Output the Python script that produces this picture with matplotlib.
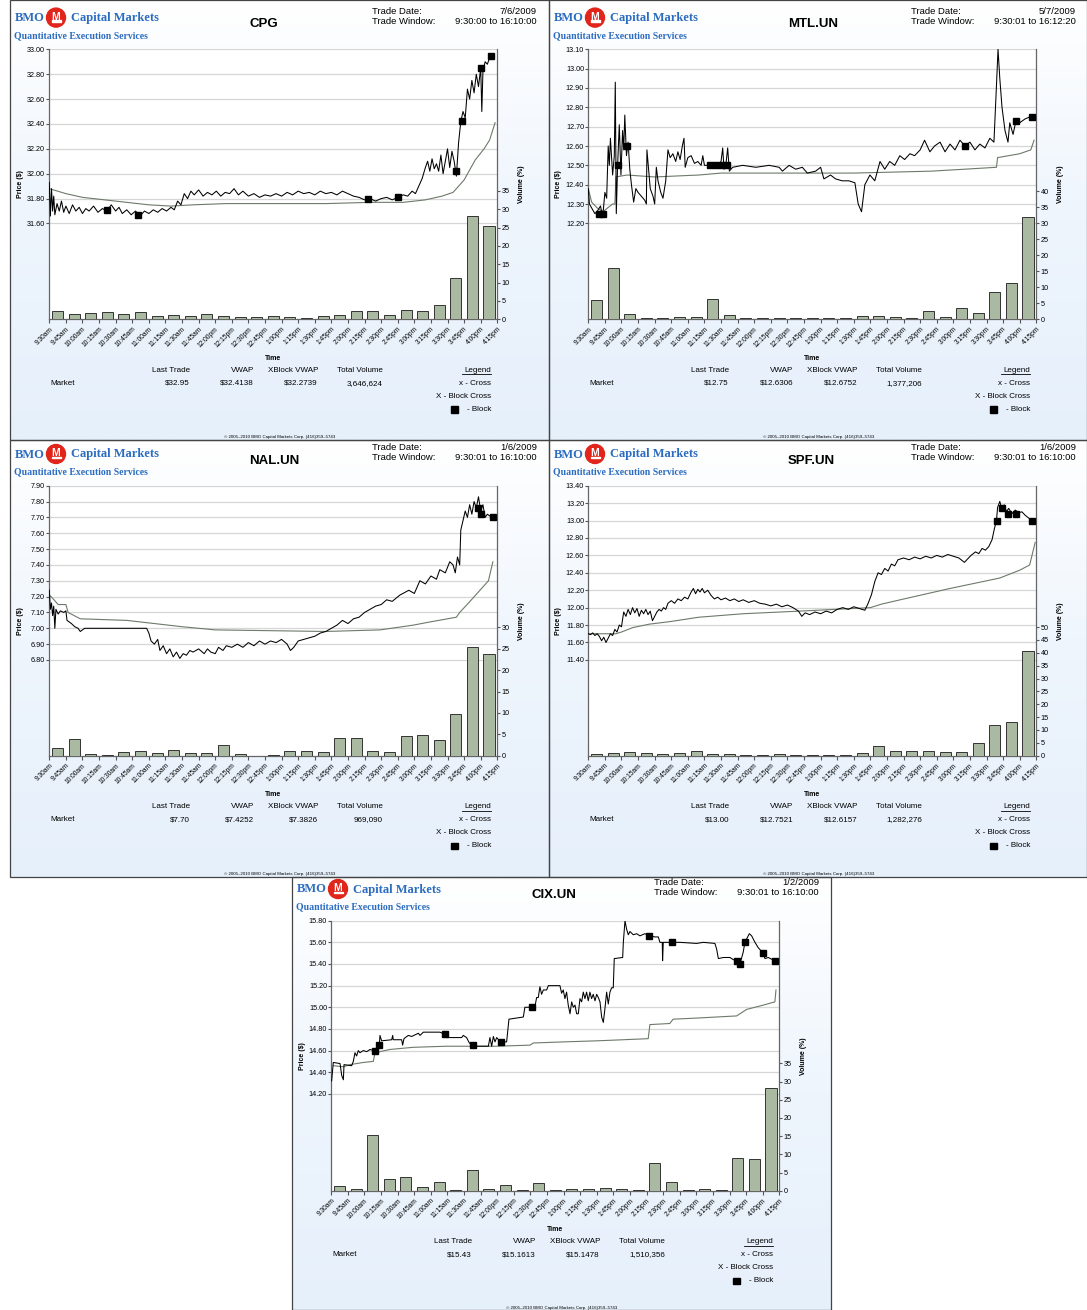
import numpy as np
import matplotlib.pyplot as plt
from matplotlib.patches import Circle, Rectangle
from matplotlib.colors import LinearSegmentedColormap

plt.rcParams['font.family'] = ['Liberation Sans', 'DejaVu Sans']

W, H = 1087, 1310

# --- shared axis labels ---
time_labels = ['9:30am', '9:45am', '10:00am', '10:15am', '10:30am', '10:45am', '11:00am',
               '11:15am', '11:30am', '11:45am', '12:00pm', '12:15pm', '12:30pm', '12:45pm',
               '1:00pm', '1:15pm', '1:30pm', '1:45pm', '2:00pm', '2:15pm', '2:30pm', '2:45pm',
               '3:00pm', '3:15pm', '3:30pm', '3:45pm', '4:00pm', '4:15pm']
stat_headers = ['Last Trade', 'VWAP', 'XBlock VWAP', 'Total Volume']

# --- CPG (minutes after 9:30) ---
cpg_t = [0, 1, 2, 3, 4, 5, 7, 9, 11, 13, 15, 18, 21, 24, 27, 30, 33, 36, 40, 44, 48, 52, 56, 60,
         63, 66, 70, 74, 78, 82, 86, 90, 94, 98, 102, 106, 110, 113, 116, 119, 122, 125, 128, 131,
         135, 139, 143, 147, 151, 155, 159, 163, 167, 171, 175, 180, 185, 190, 195, 200, 205, 210,
         215, 220, 225, 230, 235, 240, 245, 250, 255, 260, 265, 270, 275, 280, 285, 290, 295, 300,
         305, 310, 315, 320, 324, 328, 331, 334, 337, 340, 342, 344, 346, 348, 350, 352, 354, 356,
         358, 360, 362, 364, 366, 368, 370, 372, 374, 376, 378, 380, 382, 384, 386, 388, 390, 391,
         392, 394, 396, 398, 400]
cpg_p = [31.93, 31.66, 31.88, 31.70, 31.82, 31.67, 31.76, 31.70, 31.78, 31.69, 31.74, 31.68,
         31.75, 31.70, 31.73, 31.68, 31.72, 31.70, 31.74, 31.69, 31.72, 31.70, 31.75, 31.70,
         31.73, 31.68, 31.71, 31.67, 31.70, 31.66, 31.70, 31.68, 31.71, 31.69, 31.72, 31.70,
         31.73, 31.71, 31.78, 31.75, 31.84, 31.80, 31.86, 31.83, 31.87, 31.82, 31.85, 31.83,
         31.86, 31.82, 31.85, 31.84, 31.88, 31.83, 31.86, 31.82, 31.84, 31.81, 31.83, 31.82,
         31.84, 31.82, 31.85, 31.83, 31.86, 31.84, 31.85, 31.83, 31.86, 31.84, 31.85, 31.83,
         31.86, 31.84, 31.82, 31.81, 31.79, 31.80, 31.78, 31.80, 31.81, 31.79, 31.81, 31.83,
         31.82, 31.86, 31.84, 31.90, 31.96, 32.05, 32.10, 32.02, 32.12, 32.04, 32.08, 32.02,
         32.15, 32.00, 32.10, 32.20, 32.05, 32.18, 32.10, 31.98, 32.25, 32.42, 32.50, 32.45,
         32.68, 32.60, 32.75, 32.65, 32.80, 32.70, 32.85, 32.50, 32.82, 32.90, 32.88, 32.93,
         32.95]
cpg_vwap_t = [0, 15, 30, 50, 70, 90, 110, 130, 160, 200, 250, 290, 320, 340, 355, 365, 375, 385,
              393, 398, 403]
cpg_vwap_p = [31.88, 31.84, 31.81, 31.79, 31.77, 31.75, 31.74, 31.75, 31.76, 31.76, 31.76, 31.77,
              31.77, 31.79, 31.82, 31.85, 31.95, 32.11, 32.20, 32.27, 32.41]
cpg_block_t = [52, 80, 288, 315, 368, 373, 390, 399]
cpg_block_p = [31.71, 31.67, 31.80, 31.81, 32.02, 32.42, 32.85, 32.95]
cpg_vol = [2.3, 1.5, 1.7, 1.9, 1.4, 2.0, 0.8, 1.1, 0.9, 1.5, 0.9, 0.6, 0.6, 0.9, 0.6, 0.3, 0.9,
           1.3, 2.2, 2.3, 1.2, 2.5, 2.3, 3.8, 11.3, 28.2, 25.4]
cpg_price_ticks = [31.6, 31.8, 32.0, 32.2, 32.4, 32.6, 32.8, 33.0]
cpg_vol_ticks = [0, 5, 10, 15, 20, 25, 30, 35]
cpg_stats = ['$32.95', '$32.4138', '$32.2739', '3,646,624']

# --- MTL.UN ---
mtl_t = [0, 1, 3, 6, 9, 11, 12.5, 13.6, 15, 16.6, 18, 19, 20, 22, 23.5, 24.4, 25.3, 26.5, 28,
         29.5, 31, 32, 33, 34.5, 36, 37.5, 39, 41, 43, 45, 48, 51, 52.5, 53, 54.5, 56, 58.5, 60,
         61.5, 63, 65.5, 67.5, 70, 72, 74, 76.5, 79, 81, 83, 85, 86.5, 87.6, 90, 93, 96, 99, 102,
         103.5, 105, 109.5, 115.5, 120, 121.5, 122.7, 124.5, 126, 127.5, 130.5, 139.5, 151.5,
         163.5, 172.5, 175.5, 181.5, 187.5, 193.5, 198, 205.5, 210, 213, 219, 223.5, 229.5, 235.5,
         241, 244, 247, 250, 254.6, 259, 263.7, 268, 272.5, 277, 281.6, 286, 290.7, 295, 300, 304,
         308.8, 313, 318, 322.5, 327, 331.5, 336, 340.5, 345, 349.5, 354, 358.6, 363, 366.7,
         368.5, 370.4, 372, 374, 376.7, 379.4, 381, 384, 386.6, 390, 394.8, 399, 402]
mtl_p = [12.38, 12.30, 12.28, 12.25, 12.27, 12.29, 12.25, 12.27, 12.36, 12.33, 12.60, 12.50,
         12.64, 12.45, 12.55, 12.93, 12.25, 12.50, 12.71, 12.45, 12.68, 12.58, 12.76, 12.55,
         12.62, 12.48, 12.40, 12.31, 12.38, 12.36, 12.34, 12.32, 12.30, 12.58, 12.48, 12.38,
         12.34, 12.30, 12.49, 12.42, 12.36, 12.33, 12.42, 12.58, 12.54, 12.56, 12.52, 12.57,
         12.53, 12.60, 12.64, 12.49, 12.54, 12.55, 12.51, 12.52, 12.50, 12.55, 12.50, 12.50,
         12.49, 12.52, 12.59, 12.48, 12.51, 12.59, 12.47, 12.49, 12.50, 12.49, 12.50, 12.49,
         12.47, 12.50, 12.48, 12.49, 12.46, 12.47, 12.49, 12.43, 12.45, 12.43, 12.42, 12.42,
         12.41, 12.30, 12.26, 12.40, 12.45, 12.42, 12.52, 12.48, 12.52, 12.50, 12.55, 12.53,
         12.56, 12.55, 12.58, 12.63, 12.57, 12.60, 12.62, 12.57, 12.61, 12.58, 12.63, 12.60,
         12.62, 12.58, 12.61, 12.59, 12.64, 12.62, 12.85, 13.10, 12.95, 12.80, 12.68, 12.62,
         12.72, 12.66, 12.73, 12.72, 12.74, 12.75, 12.75]
mtl_vwap_t = [0, 3, 8, 13, 22, 24, 25, 35, 60, 100, 120, 140, 240, 310, 340, 369, 370, 390, 400,
              403]
mtl_vwap_p = [12.38, 12.31, 12.28, 12.26, 12.30, 12.30, 12.44, 12.45, 12.44, 12.45, 12.46, 12.46,
              12.46, 12.47, 12.48, 12.49, 12.54, 12.56, 12.58, 12.63]
mtl_block_t = [9.7, 13.3, 26.6, 34.7, 110, 115.4, 120.9, 125.4, 340.5, 386.6, 401]
mtl_block_p = [12.25, 12.25, 12.50, 12.60, 12.50, 12.50, 12.50, 12.50, 12.60, 12.73, 12.75]
mtl_vol = [6.0, 16.0, 1.6, 0.3, 0.3, 0.8, 0.8, 6.3, 1.3, 0.5, 0.3, 0.3, 0.3, 0.3, 0.3, 0.3, 1.0,
           1.0, 0.6, 0.5, 2.7, 0.6, 3.4, 1.9, 8.4, 11.3, 31.9]
mtl_price_ticks = [12.2, 12.3, 12.4, 12.5, 12.6, 12.7, 12.8, 12.9, 13.0, 13.1]
mtl_vol_ticks = [0, 5, 10, 15, 20, 25, 30, 35, 40]
mtl_stats = ['$12.75', '$12.6306', '$12.6752', '1,377,206']

# --- NAL.UN ---
nal_t = [0, 1, 2, 3, 4, 5, 6, 8, 10, 13, 15, 16, 18, 20, 23, 26, 28, 32, 40, 60, 80, 88, 90, 92,
         95, 98, 100, 103, 106, 109, 112, 115, 118, 121, 124, 127, 130, 135, 140, 143, 146, 150,
         153, 157, 160, 165, 170, 175, 180, 185, 190, 195, 200, 205, 210, 215, 218, 221, 225, 230,
         235, 240, 245, 250, 255, 260, 265, 270, 275, 280, 285, 290, 295, 300, 305, 310, 317, 325,
         330, 335, 340, 345, 350, 353, 358, 362, 365, 367, 369, 371, 372, 374, 376, 378, 380, 382,
         384, 386, 388, 390, 392, 394, 396, 398, 400, 403]
nal_p = [7.24, 7.12, 7.16, 7.08, 7.14, 7.00, 7.12, 7.09, 7.11, 7.10, 7.11, 7.05, 7.04, 7.03, 7.01,
         7.00, 6.98, 7.00, 7.00, 7.00, 7.00, 7.00, 6.97, 6.92, 6.90, 6.93, 6.86, 6.89, 6.84, 6.87,
         6.82, 6.85, 6.81, 6.84, 6.83, 6.86, 6.85, 6.87, 6.84, 6.87, 6.85, 6.84, 6.88, 6.86, 6.89,
         6.88, 6.90, 6.88, 6.91, 6.89, 6.92, 6.90, 6.92, 6.91, 6.93, 6.90, 6.86, 6.88, 6.92, 6.93,
         6.94, 6.95, 6.97, 6.98, 7.00, 7.02, 7.05, 7.03, 7.06, 7.07, 7.10, 7.12, 7.14, 7.15, 7.18,
         7.17, 7.21, 7.24, 7.22, 7.30, 7.28, 7.33, 7.31, 7.37, 7.35, 7.42, 7.40, 7.35, 7.45, 7.40,
         7.62, 7.68, 7.74, 7.70, 7.78, 7.72, 7.80, 7.76, 7.83, 7.74, 7.78, 7.70, 7.72, 7.71, 7.70,
         7.70]
nal_vwap_t = [0, 3, 8, 15, 17, 28, 70, 120, 150, 250, 299, 329, 344, 368, 371, 379, 388, 397, 401]
nal_vwap_p = [7.21, 7.19, 7.15, 7.15, 7.10, 7.06, 7.05, 7.01, 6.99, 6.98, 6.99, 7.02, 7.04, 7.07,
              7.10, 7.16, 7.23, 7.30, 7.42]
nal_block_t = [387.5, 390.3, 401]
nal_block_p = [7.76, 7.72, 7.70]
nal_vol = [1.8, 3.9, 0.4, 0.2, 0.8, 1.1, 0.6, 1.3, 0.6, 0.7, 2.5, 0.3, 0.0, 0.1, 1.2, 1.2, 0.8,
           4.2, 4.2, 1.2, 0.9, 4.7, 4.8, 3.7, 9.7, 25.3, 23.8]
nal_price_ticks = [6.8, 6.9, 7.0, 7.1, 7.2, 7.3, 7.4, 7.5, 7.6, 7.7, 7.8, 7.9]
nal_vol_ticks = [0, 5, 10, 15, 20, 25, 30]
nal_stats = ['$7.70', '$7.4252', '$7.3826', '969,090']

# --- SPF.UN ---
spf_t = [0, 2, 4, 6, 8, 10, 12, 14, 16, 18, 20, 22, 24, 26, 28, 30, 32, 34, 36, 38, 40, 42, 44,
         46, 48, 50, 52, 54, 56, 58, 60, 62, 64, 66, 68, 70, 72, 75, 78, 81, 84, 87, 90, 93, 95,
         97, 99, 101, 103, 105, 108, 111, 114, 117, 120, 124, 128, 132, 136, 140, 145, 150, 155,
         160, 165, 170, 175, 180, 185, 190, 193, 196, 200, 205, 210, 215, 220, 225, 230, 235, 240,
         245, 250, 253, 256, 259, 262, 265, 268, 271, 274, 277, 280, 285, 290, 295, 300, 305, 310,
         315, 320, 325, 330, 335, 340, 343, 346, 350, 353, 356, 359, 362, 365, 367, 369, 370, 372,
         374, 376, 378, 380, 383, 386, 389, 392, 395, 398, 401]
spf_p = [11.70, 11.69, 11.71, 11.68, 11.70, 11.67, 11.62, 11.66, 11.60, 11.65, 11.70, 11.68,
         11.75, 11.72, 11.80, 11.78, 11.95, 11.90, 11.98, 11.92, 12.00, 11.94, 11.99, 11.90,
         11.97, 11.93, 11.98, 11.92, 11.96, 11.85, 11.90, 11.95, 11.98, 11.96, 12.00, 11.98,
         12.05, 12.08, 12.05, 12.10, 12.08, 12.12, 12.10, 12.18, 12.22, 12.16, 12.21, 12.18,
         12.22, 12.17, 12.20, 12.14, 12.10, 12.12, 12.09, 12.11, 12.08, 12.10, 12.07, 12.09,
         12.06, 12.08, 12.05, 12.04, 12.02, 12.04, 12.01, 12.03, 12.00, 11.96, 11.90, 11.94,
         11.92, 11.95, 11.93, 11.96, 11.94, 11.98, 12.00, 11.98, 12.01, 11.99, 11.97, 12.05,
         12.15, 12.30, 12.40, 12.38, 12.45, 12.42, 12.50, 12.48, 12.55, 12.57, 12.55, 12.58,
         12.56, 12.59, 12.57, 12.60, 12.58, 12.61, 12.59, 12.57, 12.52, 12.56, 12.60, 12.64,
         12.62, 12.68, 12.66, 12.70, 12.78, 12.90, 13.00, 13.15, 13.22, 13.12, 13.18, 13.10,
         13.14, 13.08, 13.12, 13.09, 13.10, 13.06, 13.03, 13.00]
spf_vwap_t = [0, 25, 30, 40, 55, 74, 100, 140, 191, 255, 265, 282, 327, 372, 390, 399, 404]
spf_vwap_p = [11.70, 11.70, 11.72, 11.77, 11.81, 11.84, 11.89, 11.93, 11.96, 12.00, 12.04, 12.09,
              12.22, 12.34, 12.43, 12.49, 12.75]
spf_block_t = [369.5, 374, 379.4, 386.6, 401]
spf_block_p = [13.00, 13.14, 13.08, 13.08, 13.00]
spf_vol = [0.8, 0.9, 1.5, 1.0, 0.8, 1.1, 2.0, 0.6, 0.5, 0.4, 0.4, 0.5, 0.4, 0.3, 0.4, 0.3, 1.0,
           3.9, 1.7, 2.0, 1.9, 1.3, 1.6, 4.8, 11.8, 13.1, 40.6]
spf_price_ticks = [11.4, 11.6, 11.8, 12.0, 12.2, 12.4, 12.6, 12.8, 13.0, 13.2, 13.4]
spf_vol_ticks = [0, 5, 10, 15, 20, 25, 30, 35, 40, 45, 50]
spf_stats = ['$13.00', '$12.7521', '$12.6157', '1,282,276']

# --- CIX.UN ---
cix_t = [0.3, 1.8, 7.9, 9.4, 10.9, 11.5, 18.4, 19.9, 21.4, 22.9, 24.4, 25.9, 28.9, 32, 35, 38,
         41, 43.4, 44, 45.5, 54.6, 55.5, 56, 63.6, 64.5, 65.7, 69.6, 72.6, 78.7, 80.2, 83.2, 98.2,
         102.8, 104.3, 117.8, 119.3, 122.3, 124.8, 127.8, 131.4, 142, 143.4, 145, 146.5, 148,
         149.5, 153, 158.5, 160.6, 173.6, 175, 184, 185.6, 187.1, 188.6, 190.1, 191.7, 194.7,
         196.2, 206.7, 208.2, 209.7, 211.2, 212.7, 214.2, 215.8, 217.3, 218.8, 220.3, 221.8,
         223.3, 224.8, 226.3, 227.8, 229.3, 230.8, 232.3, 233.8, 235.3, 236.8, 238.4, 239.9,
         241.4, 242.9, 244.4, 245.9, 247.4, 248.9, 250.4, 251.9, 253.4, 254.9, 255.8, 263.4, 264,
         265.5, 267, 268.5, 270, 273, 276, 279, 283.5, 287.5, 292.6, 295.6, 297.1, 299.2, 299.5,
         300.1, 308.3, 315.2, 330.3, 336.3, 346.8, 348.3, 349.9, 354.4, 360.4, 363.4, 367, 369.4,
         372.4, 373.9, 375.4, 377.9, 380, 381.5, 383, 386, 390.5, 392, 395, 401]
cix_p = [14.32, 14.49, 14.48, 14.37, 14.33, 14.47, 14.46, 14.50, 14.58, 14.55, 14.60, 14.58,
         14.60, 14.59, 14.61, 14.60, 14.62, 14.65, 14.74, 14.69, 14.70, 14.74, 14.70, 14.70,
         14.65, 14.71, 14.74, 14.73, 14.76, 14.74, 14.77, 14.77, 14.75, 14.72, 14.72, 14.74,
         14.72, 14.67, 14.65, 14.64, 14.64, 14.72, 14.64, 14.73, 14.68, 14.72, 14.68, 14.68,
         14.89, 14.91, 15.00, 15.00, 15.09, 15.09, 15.19, 15.12, 15.16, 15.16, 15.20, 15.20,
         15.13, 15.16, 15.08, 15.14, 15.02, 14.94, 15.05, 15.00, 15.02, 14.94, 14.94, 15.08,
         15.05, 15.14, 15.08, 15.14, 15.06, 15.14, 15.08, 15.12, 15.06, 15.12, 15.09, 15.05,
         14.91, 14.86, 14.99, 15.14, 15.03, 15.14, 15.18, 15.18, 15.45, 15.46, 15.60, 15.80,
         15.72, 15.67, 15.70, 15.67, 15.68, 15.66, 15.68, 15.66, 15.65, 15.65, 15.60, 15.60,
         15.43, 15.60, 15.60, 15.60, 15.59, 15.60, 15.59, 15.54, 15.45, 15.46, 15.46, 15.44,
         15.43, 15.40, 15.51, 15.60, 15.63, 15.68, 15.66, 15.63, 15.60, 15.55, 15.50, 15.45,
         15.46, 15.43]
cix_vwap_t = [1.8, 10.9, 16.9, 22.9, 28.9, 38, 39.5, 53, 74, 104, 149.5, 179.6, 182.6, 209.8,
              240, 264, 286.5, 288, 306, 309, 330, 366.4, 375.4, 390.5, 401, 402]
cix_vwap_p = [14.46, 14.45, 14.47, 14.48, 14.49, 14.50, 14.58, 14.61, 14.63, 14.64, 14.64, 14.65,
              14.67, 14.68, 14.69, 14.70, 14.71, 14.84, 14.85, 14.89, 14.90, 14.92, 14.98, 15.02,
              15.05, 15.16]
cix_block_t = [39.5, 43.4, 102.8, 127.8, 153, 181, 287.5, 308.3, 367, 369.4, 373.9, 390.5, 401]
cix_block_p = [14.60, 14.65, 14.75, 14.65, 14.68, 15.00, 15.66, 15.60, 15.43, 15.40, 15.60, 15.50,
               15.43]
cix_vol = [1.2, 0.6, 15.3, 3.2, 3.8, 1.1, 2.5, 0.1, 5.7, 0.5, 1.6, 0.1, 2.0, 0.2, 0.5, 0.5, 0.7,
           0.5, 0.2, 7.6, 2.5, 0.2, 0.4, 0.2, 9.1, 8.6, 28.1]
cix_price_ticks = [14.2, 14.4, 14.6, 14.8, 15.0, 15.2, 15.4, 15.6, 15.8]
cix_vol_ticks = [0, 5, 10, 15, 20, 25, 30, 35]
cix_stats = ['$15.43', '$15.1613', '$15.1478', '1,510,356']

BLUE = '#2b6cc0'
DARK = '#444444'

fig = plt.figure(figsize=(W / 100, H / 100), dpi=100)
bg = fig.add_axes([0, 0, 1, 1], zorder=0)
bg.set_xlim(0, W)
bg.set_ylim(H, 0)
bg.axis('off')

grad_cmap = LinearSegmentedColormap.from_list('bmo', ['#ffffff', '#eef5fd', '#e6f0fb'])
grad = np.linspace(0, 1, 200).reshape(-1, 1)

# panel frames: (left, top, width, height)
frames = [(10, 0, 539, 440), (549, 0, 538, 440), (10, 440, 539, 437),
          (549, 440, 538, 437), (292, 877, 539, 433)]
for fx, fy, fw, fh in frames:
    bg.imshow(grad, extent=(fx, fx + fw, fy + fh, fy), cmap=grad_cmap, aspect='auto',
              interpolation='bilinear', zorder=0)
    bg.add_patch(Rectangle((fx, fy), fw, fh, fill=False, ec=DARK, lw=0.9, zorder=2))
bg.set_xlim(0, W)
bg.set_ylim(H, 0)


def draw_panel(x0, y0, name, date, window, pt, pp, vt, vp, bt, bp, vol,
               pticks, plim, vticks, vtop, stats):
    left, top, pw, ph = x0 + 39.3, y0 + 45.7, 448, 270
    rect = [left / W, 1 - (top + ph) / H, pw / W, ph / H]

    # header
    bg.text(x0 + 5, y0 + 14.5, 'BMO', family='Liberation Serif', weight='bold',
            fontsize=9, color=BLUE, va='center')
    bg.add_patch(Circle((x0 + 46, y0 + 14), 9.5, color='#e1251b', zorder=3))
    bg.text(x0 + 46, y0 + 13.2, 'M', color='white', weight='bold', fontsize=7.5,
            ha='center', va='center', zorder=4)
    bg.add_patch(Rectangle((x0 + 41.5, y0 + 16.5), 9, 1.6, color='white', zorder=4))
    bg.text(x0 + 61, y0 + 14.5, 'Capital Markets', family='Liberation Serif',
            weight='bold', fontsize=9, color=BLUE, va='center')
    bg.text(x0 + 4, y0 + 32, 'Quantitative Execution Services', family='Liberation Serif',
            weight='bold', fontsize=7, color=BLUE, va='center')
    bg.text(x0 + 239, y0 + 20.5, name, weight='bold', fontsize=9.5, va='center')
    bg.text(x0 + 362, y0 + 7.8, 'Trade Date:', fontsize=6.8, va='center')
    bg.text(x0 + 362, y0 + 17.4, 'Trade Window:', fontsize=6.8, va='center')
    bg.text(x0 + 527, y0 + 7.8, date, fontsize=6.8, va='center', ha='right')
    bg.text(x0 + 527, y0 + 17.4, window, fontsize=6.8, va='center', ha='right')

    # price axes (bottom layer, carries grid)
    ax_p = fig.add_axes(rect, zorder=1)
    ax_p.set_facecolor('white')
    ax_p.set_xlim(0, 405)
    ax_p.set_ylim(*plim)
    ax_p.set_yticks(pticks)
    ax_p.set_yticklabels([f'{v:.2f}' for v in pticks])
    ax_p.yaxis.grid(True, color='#d6d6d6', lw=0.9)
    ax_p.set_axisbelow(True)
    ax_p.set_xticks(np.arange(len(time_labels)) * 15)
    ax_p.set_xticklabels(time_labels, rotation=45, ha='right', rotation_mode='anchor',
                         fontsize=4.8)
    ax_p.tick_params(axis='y', labelsize=5.2, length=2, pad=1, color='#555555')
    ax_p.tick_params(axis='x', length=3, pad=1.5, color='#555555')
    for s in ['top', 'right']:
        ax_p.spines[s].set_visible(False)
    for s in ['left', 'bottom']:
        ax_p.spines[s].set_color('#666666')
        ax_p.spines[s].set_linewidth(0.9)

    # volume axes (bars)
    ax_v = ax_p.twinx()
    ax_v.patch.set_visible(False)
    ax_v.set_ylim(0, vtop)
    ax_v.set_yticks(vticks)
    ax_v.bar(np.arange(len(vol)) * 15 + 7.5, vol, width=10, color='#a9b9a2',
             edgecolor='#333333', linewidth=0.7)
    ax_v.tick_params(axis='y', labelsize=5.2, length=2, pad=1, color='#555555')
    for s in ['top', 'left', 'bottom']:
        ax_v.spines[s].set_visible(False)
    ax_v.spines['right'].set_color('#666666')
    ax_v.spines['right'].set_linewidth(0.9)

    # line axes on top: price, vwap, blocks
    ax_l = ax_p.twinx()
    ax_l.patch.set_visible(False)
    ax_l.set_ylim(*plim)
    ax_l.axis('off')
    ax_l.plot(vt, vp, color='#6d7a6a', lw=0.8)
    ax_l.plot(pt, pp, color='black', lw=0.75)
    ax_l.plot(bt, bp, 's', color='black', ms=4.8)

    # axis titles
    cy = top + ph / 2
    bg.text(x0 + 10, cy, 'Price ($)', rotation=90, fontsize=5, weight='bold',
            ha='center', va='center')
    bg.text(left + pw + 24, cy, 'Volume (%)', rotation=90, fontsize=5, weight='bold',
            ha='center', va='center')
    bg.text(left + pw / 2, y0 + 354.5, 'Time', fontsize=5, weight='bold', ha='center',
            va='center')

    # stats block
    cols = [x0 + 180, x0 + 244, x0 + 308, x0 + 373]
    for cx, head, val in zip(cols, stat_headers, stats):
        bg.text(cx, y0 + 366.8, head, fontsize=5.8, ha='right', va='center')
        bg.text(cx, y0 + 379.8, val, fontsize=5.8, ha='right', va='center')
    bg.text(x0 + 40, y0 + 379.8, 'Market', fontsize=5.8, va='center')
    bg.text(x0 + 481, y0 + 366.8, 'Legend', fontsize=5.8, ha='right', va='center')
    bg.plot([x0 + 452, x0 + 481], [y0 + 370.5, y0 + 370.5], color='black', lw=0.6)
    bg.text(x0 + 481, y0 + 379.8, 'x - Cross', fontsize=5.8, ha='right', va='center')
    bg.text(x0 + 481, y0 + 392.8, 'X - Block Cross', fontsize=5.8, ha='right', va='center')
    bg.text(x0 + 481, y0 + 405.8, '- Block', fontsize=5.8, ha='right', va='center')
    bg.add_patch(Rectangle((x0 + 441, y0 + 402.5), 6.5, 6.5, color='black'))
    bg.text(x0 + 270, y0 + 433.5, '\u00a9 2005\u20132010 BMO Capital Markets Corp. (416)359\u20135743',
            fontsize=3.2, ha='center', va='center')


draw_panel(10, 3.6, 'CPG', '7/6/2009', '9:30:00 to 16:10:00', cpg_t, cpg_p,
           cpg_vwap_t, cpg_vwap_p, cpg_block_t, cpg_block_p, cpg_vol,
           cpg_price_ticks, (30.83, 33.0), cpg_vol_ticks, 73.6, cpg_stats)
draw_panel(549, 3.6, 'MTL.UN', '5/7/2009', '9:30:01 to 16:12:20', mtl_t, mtl_p,
           mtl_vwap_t, mtl_vwap_p, mtl_block_t, mtl_block_p, mtl_vol,
           mtl_price_ticks, (11.704, 13.1), mtl_vol_ticks, 84.5, mtl_stats)
draw_panel(10, 440, 'NAL.UN', '1/6/2009', '9:30:01 to 16:10:00', nal_t, nal_p,
           nal_vwap_t, nal_vwap_p, nal_block_t, nal_block_p, nal_vol,
           nal_price_ticks, (6.196, 7.9), nal_vol_ticks, 63.1, nal_stats)
draw_panel(549, 440, 'SPF.UN', '1/6/2009', '9:30:01 to 16:10:00', spf_t, spf_p,
           spf_vwap_t, spf_vwap_p, spf_block_t, spf_block_p, spf_vol,
           spf_price_ticks, (10.30, 13.4), spf_vol_ticks, 105.0, spf_stats)
draw_panel(292, 875, 'CIX.UN', '1/2/2009', '9:30:01 to 16:10:00', cix_t, cix_p,
           cix_vwap_t, cix_vwap_p, cix_block_t, cix_block_p, cix_vol,
           cix_price_ticks, (13.305, 15.8), cix_vol_ticks, 74.2, cix_stats)

fig.savefig('out.png', dpi=100)
